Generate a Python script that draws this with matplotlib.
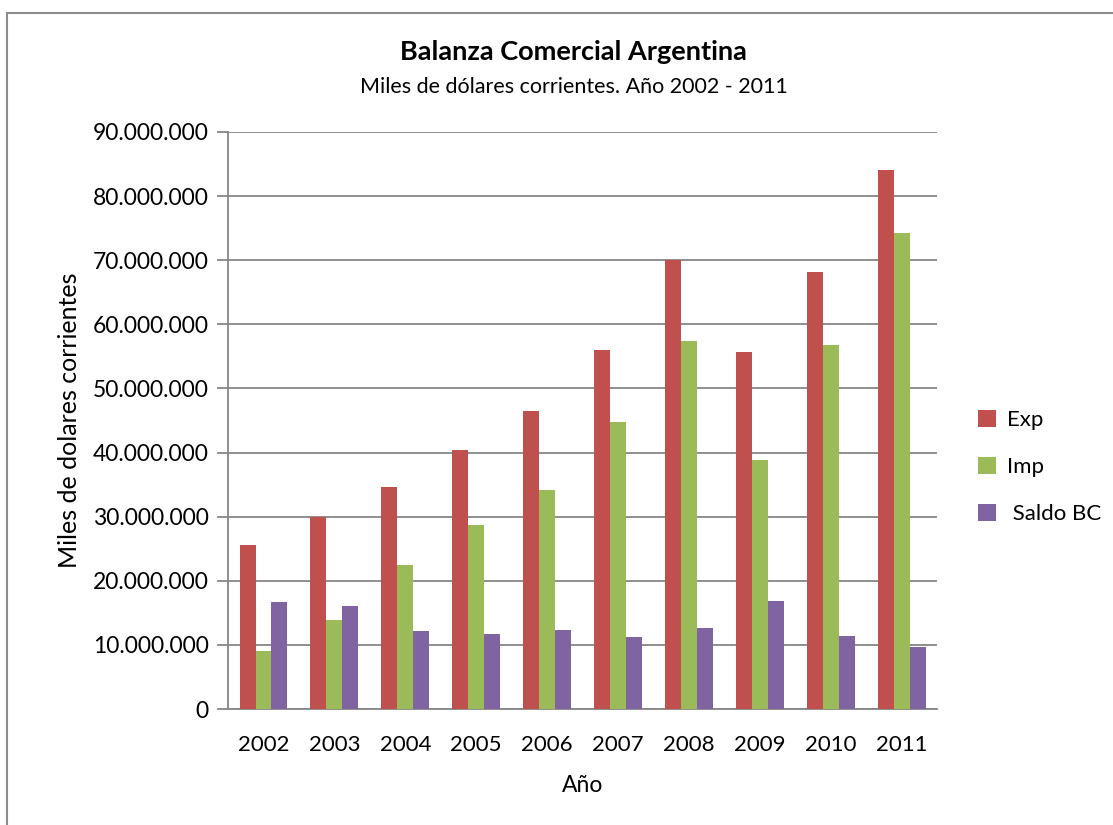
import numpy as np
import matplotlib.pyplot as plt
from matplotlib.patches import Rectangle
from matplotlib.ticker import FuncFormatter

plt.rcParams['font.family'] = ['Lato', 'DejaVu Sans']

# datos (miles de dolares corrientes)
anios = ['2002', '2003', '2004', '2005', '2006', '2007', '2008', '2009', '2010', '2011']
exp = [25650000, 29940000, 34550000, 40390000, 46550000, 55980000, 70020000, 55670000, 68130000, 84050000]
imp = [8990000, 13850000, 22450000, 28690000, 34150000, 44710000, 57460000, 38780000, 56790000, 74320000]
saldo = [16660000, 16090000, 12110000, 11700000, 12400000, 11270000, 12560000, 16890000, 11340000, 9730000]

fig = plt.figure(figsize=(11.13, 8.25), dpi=100)
ax = fig.add_axes([0.2049, 0.1406, 0.637, 0.6994])

# marco del grafico
fig.patches.append(Rectangle((0.0063, -0.01), 1.0, 0.994, transform=fig.transFigure,
                             fill=False, edgecolor='#8c8c8c', linewidth=1.5))

x = np.arange(len(anios))
w = 0.225
ax.bar(x - w, exp, w, color='#C0504D', label='Exp', zorder=3)
ax.bar(x, imp, w, color='#9BBB59', label='Imp', zorder=3)
ax.bar(x + w, saldo, w, color='#8064A2', label=' Saldo BC', zorder=3)

ax.set_xlim(-0.5, len(anios) - 0.5)
ax.set_ylim(0, 90000000)
ax.set_yticks(np.arange(0, 90000001, 10000000))
ax.yaxis.set_major_formatter(FuncFormatter(lambda v, p: '{:,.0f}'.format(v).replace(',', '.')))
ax.set_xticks(x)
ax.set_xticklabels(anios)
ax.grid(axis='y', color='#868686', linewidth=1.3, zorder=0)

for s in ['top', 'right']:
    ax.spines[s].set_visible(False)
ax.spines['left'].set_color('#868686')
ax.spines['bottom'].set_color('#868686')
ax.spines['left'].set_linewidth(1.3)
ax.spines['bottom'].set_linewidth(1.3)
ax.tick_params(axis='y', length=8, color='#868686', width=1.3, labelsize=16.5, pad=6)
ax.tick_params(axis='x', length=0, labelsize=16, pad=19)

ax.set_xlabel('Año', fontsize=16.5, labelpad=14)
ax.set_ylabel('Miles de dolares corrientes', fontsize=18, labelpad=8)

fig.text(0.5153, 0.937, 'Balanza Comercial Argentina', ha='center', va='center',
         fontsize=19.5, fontweight='bold')
fig.text(0.5153, 0.895, 'Miles de dólares corrientes. Año 2002 - 2011', ha='center',
         va='center', fontsize=15.5)

ax.legend(loc='center left', bbox_to_anchor=(1.03, 0.419), frameon=False, fontsize=16,
          handlelength=0.8, handleheight=0.8, labelspacing=1.2, handletextpad=0.5)

fig.savefig('out.png', dpi=100)
